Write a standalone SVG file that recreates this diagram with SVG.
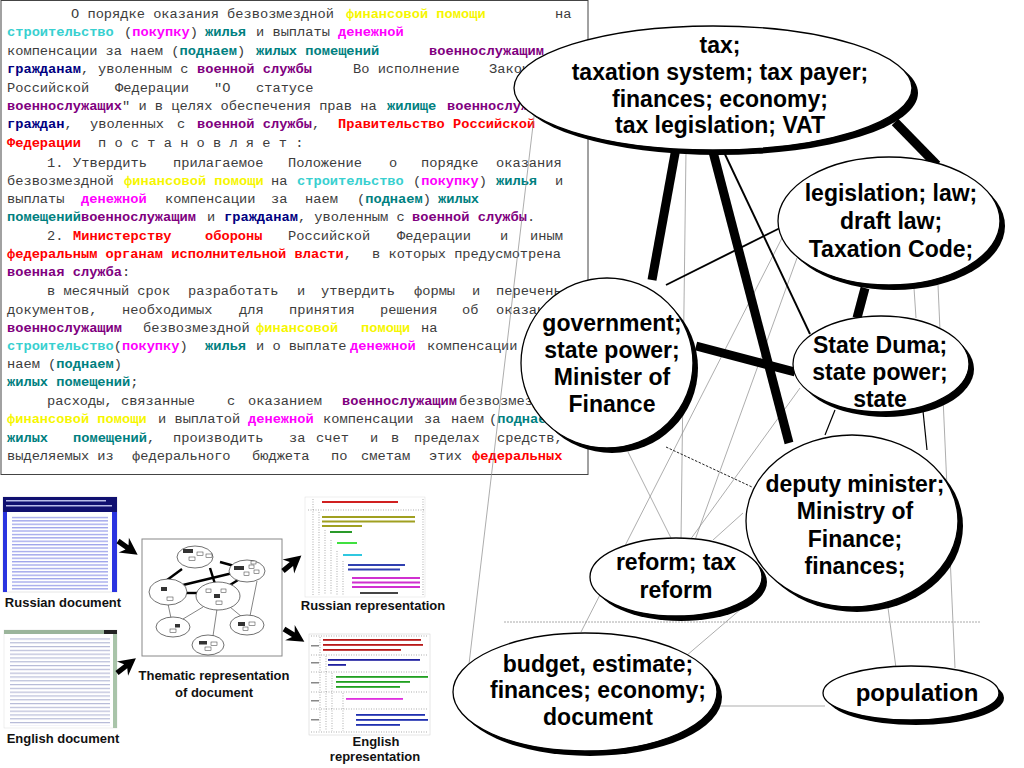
<svg xmlns="http://www.w3.org/2000/svg" width="1024" height="768" viewBox="0 0 1024 768">
<defs>
<style>
.tx{font-family:"Liberation Mono","DejaVu Sans Mono",monospace;font-size:13.7px;fill:#3c3c3c}
.y{fill:#f6f600;font-weight:bold}
.c{fill:#38d0d0;font-weight:bold}
.m{fill:#ff00ff;font-weight:bold}
.g{fill:#008080;font-weight:bold}
.p{fill:#800080;font-weight:bold}
.n{fill:#000080;font-weight:bold}
.r{fill:#ff0000;font-weight:bold}
.lb{font-family:"Liberation Sans",Arial,sans-serif;font-weight:bold;font-size:23px;fill:#000;text-anchor:middle}
.nd{fill:#fff;stroke:#000;stroke-width:1.3}
.sh{fill:#000}
.thick{stroke:#000;stroke-width:9;fill:none}
.med{stroke:#000;stroke-width:1.9;fill:none}
.mt{stroke:#000;stroke-width:1.2;fill:none}
.thin{stroke:#8a8a8a;stroke-width:0.7;fill:none}
.cap{font-family:"Liberation Sans",Arial,sans-serif;font-weight:bold;font-size:13px;fill:#111;text-anchor:middle}
.te{fill:#fff;stroke:#333;stroke-width:0.7}
.tk{stroke:#000;stroke-width:2.4}
.tn{stroke:#333;stroke-width:0.6}
.dk{fill:#333}
.wr{fill:#fff;stroke:#333;stroke-width:0.5}
.dot{stroke:#777;stroke-width:0.6;stroke-dasharray:1 1.5;fill:none}
</style>
<clipPath id="boxclip"><rect x="1" y="1" width="587" height="473"/></clipPath>
<pattern id="ruLines" width="100" height="3.4" patternUnits="userSpaceOnUse"><rect width="100" height="1.3" fill="#4a56d8" opacity="0.55"/></pattern>
<pattern id="enLines" width="100" height="3.8" patternUnits="userSpaceOnUse"><rect width="100" height="1.2" fill="#6f78b0" opacity="0.5"/></pattern>
<path id="arr" d="M0,-2.6 H11 L7,-9 L24,0 L7,9 L11,2.6 H0 Z" fill="#000"/>
</defs>
<rect width="1024" height="768" fill="#fff"/>

<g id="textbox">
<rect x="1" y="0.5" width="587" height="474" fill="#fff" stroke="#444" stroke-width="1"/>
<g clip-path="url(#boxclip)">
<text class="tx" y="18"><tspan x="71">О порядке оказания безвозмездной</tspan><tspan x="346" class="y">финансовой помощи</tspan><tspan x="555">на</tspan></text>
<text class="tx" y="36"><tspan x="7" class="c">строительство</tspan><tspan x="124">(</tspan><tspan class="m">покупку</tspan><tspan>)</tspan><tspan x="205" class="g">жилья</tspan><tspan x="256">и выплаты</tspan><tspan x="338" class="m">денежной</tspan></text>
<text class="tx" y="55"><tspan x="7">компенсации за наем (</tspan><tspan class="g">поднаем</tspan><tspan>)</tspan><tspan x="256" class="g">жилых помещений</tspan><tspan x="429" class="p">военнослужащим</tspan></text>
<text class="tx" y="73"><tspan x="7" class="n">гражданам</tspan><tspan>,</tspan><tspan x="98">уволенным с</tspan><tspan x="197" class="p">военной службы</tspan><tspan x="353">Во исполнение</tspan><tspan x="489">Закона</tspan></text>
<text class="tx" y="92"><tspan x="7">Российской</tspan><tspan x="115">Федерации</tspan><tspan x="214">"О</tspan><tspan x="256">статусе</tspan></text>
<text class="tx" y="110"><tspan x="7" class="p">военнослужащих</tspan><tspan>" и в целях обеспечения прав на</tspan><tspan x="387" class="g">жилище</tspan><tspan x="447" class="p">военнослужащих</tspan></text>
<text class="tx" y="128"><tspan x="7" class="n">граждан</tspan><tspan>,</tspan><tspan x="90">уволенных</tspan><tspan x="177">с</tspan><tspan x="197" class="p">военной службы</tspan><tspan>,</tspan><tspan x="338" class="r">Правительство Российской</tspan></text>
<text class="tx" y="147"><tspan x="7" class="r">Федерации</tspan><tspan x="98">п о с т а н о в л я е т :</tspan></text>
<text class="tx" y="167"><tspan x="47">1.</tspan><tspan x="73">Утвердить</tspan><tspan x="173">прилагаемое</tspan><tspan x="288">Положение</tspan><tspan x="389">о</tspan><tspan x="421">порядке</tspan><tspan x="496">оказания</tspan></text>
<text class="tx" y="185"><tspan x="7">безвозмездной</tspan><tspan x="124" class="y">финансовой помощи</tspan><tspan x="271">на</tspan><tspan x="297" class="c">строительство</tspan><tspan x="413">(</tspan><tspan class="m">покупку</tspan><tspan>)</tspan><tspan x="496" class="g">жилья</tspan><tspan x="555">и</tspan></text>
<text class="tx" y="203"><tspan x="7">выплаты</tspan><tspan x="81" class="m">денежной</tspan><tspan x="165">компенсации</tspan><tspan x="271">за</tspan><tspan x="305">наем</tspan><tspan x="357">(</tspan><tspan class="g">поднаем</tspan><tspan>)</tspan><tspan x="438" class="g">жилых</tspan></text>
<text class="tx" y="221"><tspan x="7" class="g">помещений</tspan><tspan class="p">военнослужащим</tspan><tspan x="207">и</tspan><tspan x="224" class="n">гражданам</tspan><tspan>, уволенным с</tspan><tspan x="412" class="p">военной службы</tspan><tspan>.</tspan></text>
<text class="tx" y="240"><tspan x="47">2.</tspan><tspan x="73" class="r">Министерству</tspan><tspan x="205" class="r">обороны</tspan><tspan x="288">Российской</tspan><tspan x="397">Федерации</tspan><tspan x="500">и</tspan><tspan x="530">иным</tspan></text>
<text class="tx" y="258"><tspan x="7" class="r">федеральным органам исполнительной власти</tspan><tspan>,</tspan><tspan x="372">в которых предусмотрена</tspan></text>
<text class="tx" y="276"><tspan x="7" class="p">военная служба</tspan><tspan>:</tspan></text>
<text class="tx" y="295"><tspan x="47">в месячный срок</tspan><tspan x="188">разработать</tspan><tspan x="297">и</tspan><tspan x="321">утвердить</tspan><tspan x="414">формы</tspan><tspan x="472">и</tspan><tspan x="496">перечень</tspan></text>
<text class="tx" y="314"><tspan x="7">документов,</tspan><tspan x="122">необходимых</tspan><tspan x="239">для</tspan><tspan x="289">принятия</tspan><tspan x="380">решения</tspan><tspan x="462">об</tspan><tspan x="496">оказании</tspan></text>
<text class="tx" y="332"><tspan x="7" class="p">военнослужащим</tspan><tspan x="143">безвозмездной</tspan><tspan x="256" class="y">финансовой</tspan><tspan x="361" class="y">помощи</tspan><tspan x="421">на</tspan></text>
<text class="tx" y="350"><tspan x="7" class="c">строительство</tspan><tspan>(</tspan><tspan class="m">покупку</tspan><tspan>)</tspan><tspan x="205" class="g">жилья</tspan><tspan x="256">и о выплате</tspan><tspan x="350" class="m">денежной</tspan><tspan x="427">компенсации за</tspan></text>
<text class="tx" y="368"><tspan x="7">наем (</tspan><tspan class="g">поднаем</tspan><tspan>)</tspan></text>
<text class="tx" y="386"><tspan x="7" class="g">жилых помещений</tspan><tspan>;</tspan></text>
<text class="tx" y="405"><tspan x="47">расходы, связанные</tspan><tspan x="227">с</tspan><tspan x="248">оказанием</tspan><tspan x="342" class="p">военнослужащим</tspan><tspan x="459">безвозмездной</tspan></text>
<text class="tx" y="423"><tspan x="7" class="y">финансовой помощи</tspan><tspan x="158">и выплатой</tspan><tspan x="248" class="m">денежной</tspan><tspan x="323">компенсации</tspan><tspan x="424">за</tspan><tspan x="451">наем</tspan><tspan x="489">(</tspan><tspan class="g">поднаем</tspan><tspan>)</tspan></text>
<text class="tx" y="442"><tspan x="7" class="g">жилых</tspan><tspan x="73" class="g">помещений</tspan><tspan>,</tspan><tspan x="173">производить</tspan><tspan x="289">за</tspan><tspan x="316">счет</tspan><tspan x="370">и</tspan><tspan x="391">в</tspan><tspan x="414">пределах</tspan><tspan x="497">средств,</tspan></text>
<text class="tx" y="460"><tspan x="7">выделяемых из</tspan><tspan x="132">федерального</tspan><tspan x="252">бюджета</tspan><tspan x="331">по</tspan><tspan x="361">сметам</tspan><tspan x="429">этих</tspan><tspan x="472" class="r">федеральных</tspan></text>
</g>
</g>

<g id="ru-doc">
<rect x="3" y="497" width="114" height="95" fill="#fff" stroke="#ccc" stroke-width="0.5"/>
<rect x="3" y="497" width="114" height="15" fill="#101070"/>
<rect x="6" y="500" width="100" height="1.5" fill="#b8bce8"/>
<rect x="6" y="505" width="106" height="1.5" fill="#b8bce8"/>
<rect x="3" y="512" width="4" height="80" fill="#2a34e0"/>
<rect x="112" y="512" width="5" height="80" fill="#2a34e0"/>
<rect x="12" y="515" width="96" height="75" fill="url(#ruLines)"/>
</g>
<text class="cap" x="63" y="607">Russian document</text>

<g id="en-doc">
<rect x="4" y="630" width="113" height="98" fill="#fff" stroke="#ddd" stroke-width="0.5"/>
<rect x="4" y="630" width="113" height="4" fill="#9bb59b"/>
<rect x="104" y="630" width="13" height="4" fill="#222"/>
<rect x="113" y="634" width="4" height="94" fill="#a9c4a9"/>
<rect x="10" y="638" width="100" height="88" fill="url(#enLines)"/>
</g>
<text class="cap" x="63" y="743">English document</text>

<g id="thematic">
<rect x="142" y="539" width="140" height="117" fill="#fff" stroke="#888" stroke-width="1"/>
<line class="tk" x1="182" y1="569" x2="163" y2="583"/>
<line class="tk" x1="210" y1="568" x2="215" y2="584"/>
<line class="tk" x1="220" y1="562" x2="238" y2="567"/>
<line class="tk" x1="183" y1="585" x2="237" y2="572"/>
<line class="tk" x1="186" y1="593" x2="198" y2="593"/>
<line class="tk" x1="230" y1="585" x2="238" y2="580"/>
<line class="tn" x1="168" y1="604" x2="171" y2="618"/>
<line class="tn" x1="203" y1="607" x2="183" y2="619"/>
<line class="tn" x1="217" y1="609" x2="213" y2="636"/>
<line class="tn" x1="230" y1="607" x2="242" y2="617"/>
<line class="tn" x1="257" y1="581" x2="250" y2="616"/>
<ellipse class="te" cx="195" cy="557" rx="18" ry="11"/>
<ellipse class="te" cx="247" cy="571" rx="18" ry="11"/>
<ellipse class="te" cx="168" cy="592" rx="19" ry="13"/>
<ellipse class="te" cx="218" cy="596" rx="22" ry="14"/>
<ellipse class="te" cx="173" cy="627" rx="17" ry="10"/>
<ellipse class="te" cx="247" cy="625" rx="17" ry="10"/>
<ellipse class="te" cx="208" cy="645" rx="16" ry="10"/>
<rect class="dk" x="183" y="549" width="10" height="4"/><rect class="wr" x="197" y="552" width="6" height="3.5"/><rect class="wr" x="206" y="554" width="6" height="3.5"/><rect class="wr" x="189" y="557" width="6" height="3.5"/>
<rect class="dk" x="234" y="566" width="10" height="4"/><rect class="wr" x="249" y="565" width="5" height="3.5"/><rect class="wr" x="254" y="570" width="5" height="3.5"/><rect class="wr" x="244" y="572" width="5" height="3.5"/><rect class="wr" x="251" y="561" width="5" height="3"/>
<rect class="dk" x="161" y="587" width="6" height="4"/><rect class="wr" x="167" y="597" width="6" height="3.5"/>
<rect class="dk" x="214" y="594" width="6" height="4"/><rect class="wr" x="206" y="589" width="5" height="3.5"/><rect class="wr" x="221" y="589" width="5" height="3.5"/><rect class="wr" x="216" y="601" width="6" height="3.5"/>
<rect class="dk" x="175" y="624" width="5" height="3.5"/><rect class="wr" x="170" y="629" width="6" height="3.5"/>
<rect class="dk" x="238" y="622" width="7" height="4"/><rect class="wr" x="249" y="622" width="6" height="3.5"/><rect class="wr" x="243" y="627" width="5" height="3.5"/>
<rect class="dk" x="199" y="641" width="8" height="3.5"/><rect class="wr" x="211" y="642" width="6" height="3.5"/><rect class="wr" x="205" y="647" width="6" height="3.5"/>
</g>
<text class="cap" x="214" y="680">Thematic representation</text>
<text class="cap" x="214" y="697">of document</text>

<g id="ru-rep">
<rect x="305" y="497" width="120" height="100" fill="#fff" stroke="#ddd" stroke-width="0.5"/>
<line class="dot" x1="313" y1="499" x2="313" y2="595"/>
<line class="dot" x1="319" y1="512" x2="319" y2="595"/>
<line class="dot" x1="325" y1="530" x2="325" y2="595"/>
<line class="dot" x1="331" y1="540" x2="331" y2="595"/>
<line class="dot" x1="337" y1="551" x2="337" y2="595"/>
<line class="dot" x1="343" y1="561" x2="343" y2="595"/>
<line class="dot" x1="423" y1="499" x2="423" y2="595"/>
<line class="dot" x1="308" y1="510" x2="424" y2="510"/>
<rect x="322" y="501" width="76" height="2" fill="#d02020"/>
<rect x="322" y="516" width="93" height="2" fill="#a0a020"/>
<rect x="322" y="520.5" width="93" height="2" fill="#a0a020"/>
<rect x="322" y="525" width="40" height="2" fill="#a0a020"/>
<rect x="330" y="531" width="22" height="2" fill="#2a9a2a"/>
<rect x="337" y="542" width="20" height="2" fill="#40e040"/>
<rect x="343" y="554" width="19" height="2" fill="#30c8e0"/>
<rect x="348" y="564" width="57" height="2" fill="#3040b0"/>
<rect x="348" y="568.5" width="52" height="2" fill="#3040b0"/>
<rect x="352" y="577" width="68" height="2" fill="#d030d0"/>
<rect x="352" y="581.5" width="68" height="2" fill="#d030d0"/>
<rect x="352" y="586" width="68" height="2" fill="#d030d0"/>
<rect x="360" y="592" width="38" height="2" fill="#444"/>
</g>
<text class="cap" x="373" y="610">Russian representation</text>

<g id="en-rep">
<rect x="309" y="634" width="121" height="101" fill="#fff" stroke="#ccc" stroke-width="0.5"/>
<line class="dot" x1="311" y1="636" x2="428" y2="636"/>
<line class="dot" x1="311" y1="655" x2="428" y2="655"/>
<line class="dot" x1="311" y1="672" x2="428" y2="672"/>
<line class="dot" x1="311" y1="692" x2="428" y2="692"/>
<line class="dot" x1="311" y1="709" x2="428" y2="709"/>
<line class="dot" x1="311" y1="732" x2="428" y2="732"/>
<line class="dot" x1="320" y1="637" x2="320" y2="731"/>
<line class="dot" x1="326" y1="656" x2="326" y2="731"/>
<line class="dot" x1="332" y1="673" x2="332" y2="731"/>
<line class="dot" x1="343" y1="693" x2="343" y2="731"/>
<rect x="311" y="645" width="8" height="1.5" fill="#888"/>
<rect x="311" y="662" width="8" height="1.5" fill="#888"/>
<rect x="311" y="682" width="8" height="1.5" fill="#888"/>
<rect x="311" y="700" width="8" height="1.5" fill="#888"/>
<rect x="311" y="719" width="8" height="1.5" fill="#888"/>
<rect x="323" y="639" width="98" height="1.8" fill="#b81818"/>
<rect x="323" y="644" width="100" height="1.8" fill="#b81818"/>
<rect x="323" y="649" width="78" height="1.8" fill="#b81818"/>
<rect x="328" y="659" width="92" height="1.8" fill="#2020a0"/>
<rect x="328" y="664" width="18" height="1.8" fill="#2020a0"/>
<rect x="336" y="676" width="92" height="1.8" fill="#20a020"/>
<rect x="336" y="681" width="74" height="1.8" fill="#20a020"/>
<rect x="336" y="686" width="64" height="1.8" fill="#20a020"/>
<rect x="346" y="698" width="57" height="1.8" fill="#e030e0"/>
<rect x="356" y="714" width="69" height="1.8" fill="#2030b0"/>
<rect x="356" y="719" width="72" height="1.8" fill="#2030b0"/>
<rect x="356" y="724" width="44" height="1.8" fill="#2030b0"/>
</g>
<text class="cap" x="376" y="746">English</text>
<text class="cap" x="375" y="761">representation</text>

<g id="arrows">
<use href="#arr" transform="translate(118,541) rotate(35)"/>
<use href="#arr" transform="translate(117,673) rotate(-38)"/>
<use href="#arr" transform="translate(283,571) rotate(-40)"/>
<use href="#arr" transform="translate(284,629) rotate(32)"/>
</g>

<g id="connectors">
<line x1="504" y1="622" x2="981" y2="622" stroke="#aaa" stroke-width="1" stroke-dasharray="2 1"/>
<line class="thin" x1="686" y1="150" x2="681" y2="540"/>
<line class="thin" x1="536" y1="100" x2="469" y2="664"/>
<line class="thin" x1="782" y1="238" x2="581" y2="632"/>
<line class="thin" x1="797" y1="258" x2="695" y2="540"/>
<line class="thin" x1="800" y1="388" x2="690" y2="540"/>
<line class="thin" x1="743" y1="513" x2="713" y2="540"/>
<line class="thin" x1="628" y1="452" x2="672" y2="540"/>
<line class="thin" x1="748" y1="603" x2="686" y2="656"/>
<line class="thin" x1="938" y1="285" x2="955" y2="668"/>
<line class="thin" x1="914" y1="288" x2="916" y2="318"/>
<line class="thin" x1="887" y1="600" x2="896" y2="668"/>
<line class="thin" x1="716" y1="706" x2="825" y2="706"/>
<line x1="666" y1="447" x2="752" y2="487" stroke="#222" stroke-width="1" stroke-dasharray="2.5 1.5"/>
<line class="mt" x1="835" y1="410" x2="825" y2="435"/>
<line class="mt" x1="923" y1="411" x2="927" y2="450"/>
<line class="med" x1="722" y1="148" x2="810" y2="334"/>
<line class="med" x1="666" y1="285" x2="780" y2="228"/>
<line class="thick" x1="676" y1="148" x2="652" y2="280"/>
<line class="thick" x1="712" y1="148" x2="789" y2="443"/>
<line class="thick" x1="895" y1="122" x2="937" y2="165"/>
<line class="thick" x1="865" y1="288" x2="857" y2="318"/>
<line class="thick" x1="696" y1="346" x2="795" y2="372"/>
</g>

<g id="n-tax">
<ellipse class="sh" cx="719" cy="93" rx="199" ry="62"/>
<ellipse class="nd" cx="713" cy="88" rx="199" ry="62"/>
<text class="lb" x="720" y="53">tax;</text>
<text class="lb" x="720" y="80">taxation system; tax payer;</text>
<text class="lb" x="720" y="107">finances; economy;</text>
<text class="lb" x="720" y="133">tax legislation; VAT</text>
</g>
<g id="n-legislation">
<ellipse class="sh" cx="894" cy="226" rx="111" ry="64"/>
<ellipse class="nd" cx="889" cy="221" rx="111" ry="64"/>
<text class="lb" x="891" y="201">legislation; law;</text>
<text class="lb" x="891" y="229">draft law;</text>
<text class="lb" x="891" y="257">Taxation Code;</text>
</g>
<g id="n-government">
<ellipse class="sh" cx="612" cy="368" rx="86" ry="85"/>
<ellipse class="nd" cx="607" cy="363" rx="86" ry="85"/>
<text class="lb" x="612" y="331">government;</text>
<text class="lb" x="612" y="358">state power;</text>
<text class="lb" x="612" y="385">Minister of</text>
<text class="lb" x="612" y="412">Finance</text>
</g>
<g id="n-duma">
<ellipse class="sh" cx="886" cy="369" rx="88" ry="48"/>
<ellipse class="nd" cx="881" cy="364" rx="88" ry="48"/>
<text class="lb" x="880" y="353">State Duma;</text>
<text class="lb" x="880" y="380">state power;</text>
<text class="lb" x="880" y="407">state</text>
</g>
<g id="n-deputy">
<ellipse class="sh" cx="857" cy="526" rx="106" ry="86"/>
<ellipse class="nd" cx="852" cy="521" rx="106" ry="86"/>
<text class="lb" x="855" y="492">deputy minister;</text>
<text class="lb" x="855" y="519">Ministry of</text>
<text class="lb" x="855" y="547">Finance;</text>
<text class="lb" x="855" y="574">finances;</text>
</g>
<g id="n-reform">
<ellipse class="sh" cx="681" cy="582" rx="86" ry="39"/>
<ellipse class="nd" cx="676" cy="577" rx="86" ry="39"/>
<text class="lb" x="676" y="570">reform; tax</text>
<text class="lb" x="676" y="598">reform</text>
</g>
<g id="n-budget">
<ellipse class="sh" cx="590" cy="697" rx="132" ry="59"/>
<ellipse class="nd" cx="585" cy="692" rx="132" ry="59"/>
<text class="lb" x="598" y="672">budget, estimate;</text>
<text class="lb" x="598" y="698">finances; economy;</text>
<text class="lb" x="598" y="725">document</text>
</g>
<g id="n-population">
<ellipse class="sh" cx="916" cy="698" rx="88" ry="27"/>
<ellipse class="nd" cx="911" cy="693" rx="88" ry="27"/>
<text class="lb" x="917" y="701" style="font-size:24px">population</text>
</g>
</svg>
